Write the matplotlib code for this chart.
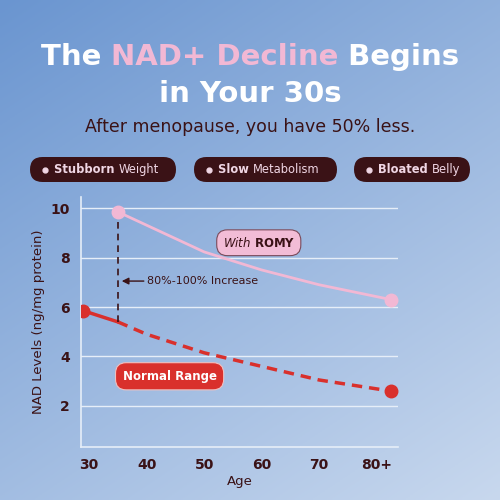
import numpy as np
import matplotlib.pyplot as plt
from matplotlib.patches import FancyBboxPatch

ages_romy = [35, 50, 60, 70, 82.5]
nad_romy = [9.85, 8.23, 7.5, 6.9, 6.3]
ages_normal = [29, 35, 40, 50, 60, 70, 82.5]
nad_normal = [5.85, 5.4, 4.9, 4.15, 3.6, 3.05, 2.6]
x_ticks = [30, 40, 50, 60, 70, 80]
x_labels = ['30', '40', '50', '60', '70', '80+']
y_ticks = [2, 4, 6, 8, 10]

DARK = '#3a1216'
PINK = '#f2b8d4'
RED = '#d9302c'
plt.rcParams['font.family'] = ['DejaVu Sans']

fig = plt.figure(figsize=(5, 5), dpi=100)

# background gradient: blue top-left to pale bottom-right
bg = fig.add_axes([0, 0, 1, 1])
xx, yy = np.meshgrid(np.linspace(0, 1, 200), np.linspace(0, 1, 200))
t = np.clip((xx * 0.6 + (1 - yy) * 0.9) / 1.5, 0, 1)
c0 = np.array([0x6a, 0x95, 0xd0]) / 255
c1 = np.array([0xc8, 0xd8, 0xee]) / 255
img = c0[None, None, :] * (1 - t[..., None]) + c1[None, None, :] * t[..., None]
bg.imshow(img, extent=[0, 1, 0, 1], aspect='auto', origin='lower')
bg.set_axis_off()

fig.canvas.draw()
r = fig.canvas.get_renderer()

def line_of(parts, y, size):
    texts = [fig.text(0, y, s, color=c, fontsize=size, fontweight='bold', va='center') for s, c in parts]
    widths = [tx.get_window_extent(r).width / fig.bbox.width for tx in texts]
    x = 0.5 - sum(widths) / 2
    for tx, w in zip(texts, widths):
        tx.set_x(x)
        x += w

line_of([('The ', 'white'), ('NAD+ Decline', PINK), (' Begins', 'white')], 1 - 57 / 500, 21)
fig.text(0.5, 1 - 94 / 500, 'in Your 30s', color='white', fontsize=21, fontweight='bold', ha='center', va='center')
fig.text(0.5, 1 - 127 / 500, 'After menopause, you have 50% less.', color=DARK, fontsize=12.5, ha='center', va='center')

pills = [(30, 176, 'Stubborn', 'Weight'), (194, 337, 'Slow', 'Metabolism'), (354, 470, 'Bloated', 'Belly')]
for x0, x1, b, n in pills:
    bg.add_patch(FancyBboxPatch((x0 / 500, 1 - 182 / 500), (x1 - x0) / 500, 25 / 500,
                                boxstyle='round,pad=0,rounding_size=0.025', fc=DARK, ec='none',
                                transform=bg.transAxes, mutation_aspect=1))
    bg.plot([(x0 + 15) / 500], [1 - 169.5 / 500], 'o', color='#f0d6e4', ms=3.5, transform=bg.transAxes)
    t1 = fig.text((x0 + 24) / 500, 1 - 169.5 / 500, b + ' ', color='#f0d6e4', fontsize=8.3, fontweight='bold', va='center')
    w = t1.get_window_extent(r).width / 500
    fig.text((x0 + 24) / 500 + w, 1 - 169.5 / 500, n, color='#f0d6e4', fontsize=8.3, va='center')
bg.set_xlim(0, 1)
bg.set_ylim(0, 1)

ax = fig.add_axes([81 / 500, 1 - 447 / 500, (398 - 81) / 500, (447 - 197) / 500])
ax.patch.set_alpha(0)
ax.set_xlim(28.6, 83.7)
ax.set_ylim(0.34, 10.45)
for s in ['top', 'right']:
    ax.spines[s].set_visible(False)
for s in ['left', 'bottom']:
    ax.spines[s].set_color('#e6eef8')
    ax.spines[s].set_linewidth(1.2)
ax.set_yticks(y_ticks)
ax.set_xticks(x_ticks)
ax.set_xticklabels(x_labels)
ax.tick_params(length=0, labelsize=10, labelcolor=DARK, pad=8)
for lab in ax.get_xticklabels() + ax.get_yticklabels():
    lab.set_fontweight('bold')
ax.grid(axis='y', color='#e6eef8', lw=1)
ax.set_axisbelow(True)
ax.set_xlabel('Age', color=DARK, fontsize=9.5, labelpad=2)
ax.set_ylabel('NAD Levels (ng/mg protein)', color=DARK, fontsize=9.5, labelpad=4)

ax.plot(ages_romy, nad_romy, color=PINK, lw=2, solid_capstyle='round')
ax.plot([ages_romy[0], ages_romy[-1]], [nad_romy[0], nad_romy[-1]], 'o', color=PINK, ms=9, zorder=5)
ax.plot(ages_normal[:2], nad_normal[:2], color=RED, lw=2.5)
ax.plot(ages_normal[1:], nad_normal[1:], color=RED, lw=2.5, ls=(0, (3, 2)))
ax.plot([ages_normal[0], ages_normal[-1]], [nad_normal[0], nad_normal[-1]], 'o', color=RED, ms=9, zorder=5)

ax.plot([35, 35], [nad_normal[1], nad_romy[0]], color=DARK, lw=1.2, ls=(0, (4, 3)))
ax.annotate('', xy=(35.2, 7.05), xytext=(40, 7.05),
            arrowprops=dict(arrowstyle='-|>', color=DARK, lw=1, mutation_scale=10))
ax.text(40, 7.05, '80%-100% Increase', color=DARK, fontsize=8, va='center')

ax.text(59.5, 8.6, r'$\it{With}$ ROMY', fontsize=8.5, fontweight='bold', color=DARK, ha='center', va='center',
        bbox=dict(boxstyle='round,pad=0.5,rounding_size=0.9', fc='#f2bcd6', ec='#7a4a5a', lw=0.8))
ax.text(44, 3.2, 'Normal Range', fontsize=8.5, fontweight='bold', color='white', ha='center', va='center',
        bbox=dict(boxstyle='round,pad=0.6,rounding_size=0.9', fc=RED, ec='#f0c0c0', lw=0.8))

fig.savefig('out.png', dpi=100)
